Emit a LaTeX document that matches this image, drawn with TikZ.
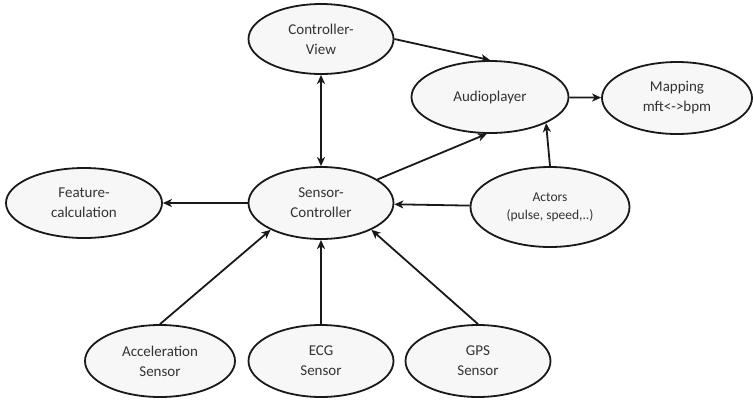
\documentclass[tikz,border=0pt]{standalone}
\usepackage{fontspec}
\setmainfont{Carlito}
\usetikzlibrary{shapes.geometric,arrows.meta}
\begin{document}
\begin{tikzpicture}[x=1pt,y=-1pt,
  el/.style={ellipse,draw=black!90,line width=1.8pt,fill=black!3,inner sep=0pt,align=center,font=\fontsize{15}{20}\selectfont,text=black!80},
  tip/.style={},
  arr/.style={line width=1.8pt,draw=black!90,-{Stealth[length=9pt,width=8pt,inset=2.5pt]}},
  darr/.style={line width=1.8pt,draw=black!90,{Stealth[length=9pt,width=8pt,inset=2.5pt]}-{Stealth[length=9pt,width=8pt,inset=2.5pt]}}]
\useasboundingbox (0,0) rectangle (753,400);
\node[el,minimum width=145pt,minimum height=70pt] (cv) at (321,39) {Controller-\\View};
\node[el,minimum width=157pt,minimum height=72pt] (ap) at (490,97) {Audioplayer};
\node[el,minimum width=150pt,minimum height=72pt] (mp) at (677,98) {Mapping\\mft<->bpm};
\node[el,minimum width=156pt,minimum height=70pt] (fc) at (84,203) {Feature-\\calculation};
\node[el,minimum width=145pt,minimum height=72pt] (sc) at (321,203) {Sensor-\\Controller};
\node[el,minimum width=159pt,minimum height=80pt,font=\fontsize{13.5}{18}\selectfont] (ac) at (550,207) {Actors\\(pulse, speed,..)};
\node[el,minimum width=150pt,minimum height=72pt] (as) at (160,361) {Acceleration\\Sensor};
\node[el,minimum width=145pt,minimum height=72pt] (ecg) at (321,361) {ECG\\Sensor};
\node[el,minimum width=145pt,minimum height=72pt] (gps) at (478,361) {GPS\\Sensor};
\draw[darr] (cv) -- (sc);
\draw[arr] (cv.east) -- (ap.north);
\draw[arr] (ap) -- (mp);
\draw[arr] (sc) -- (ap.-95);
\draw[arr] (ac.north) -- (ap.-25);
\draw[arr] (ac) -- (sc);
\draw[arr] (sc) -- (fc);
\draw[arr] (as.north) -- (sc.-152);
\draw[arr] (ecg) -- (sc);
\draw[arr] (gps.north) -- (sc.-28);
\end{tikzpicture}
\end{document}
